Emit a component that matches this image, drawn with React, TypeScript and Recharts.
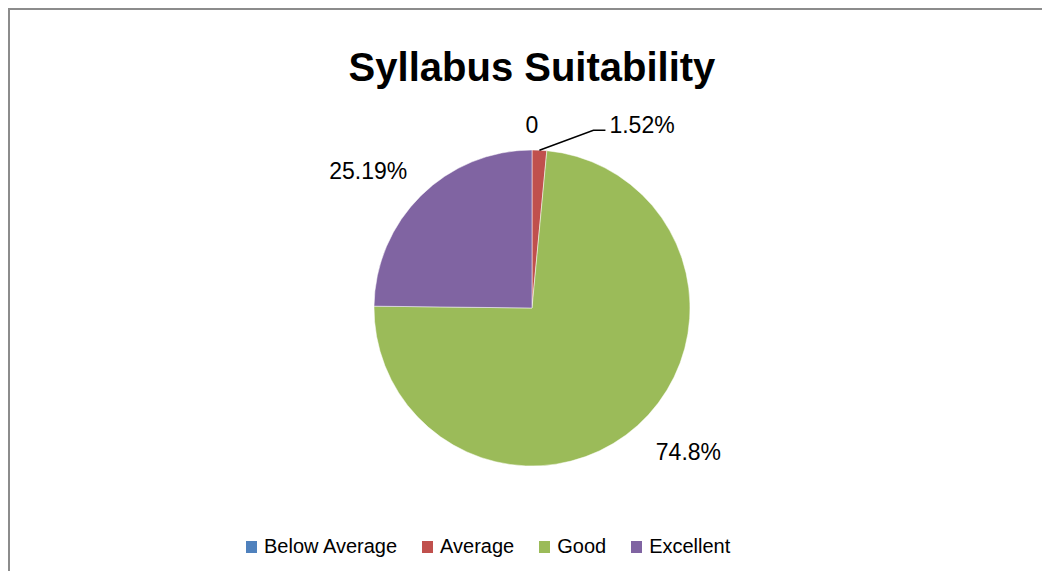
import React from "react";
import { PieChart, Pie, Cell, Legend } from "recharts";

const categories = ["Below Average", "Average", "Good", "Excellent"];
const shares = [0, 1.52, 74.8, 25.19];
const colors = ["#4F81BD", "#C0504D", "#9BBB59", "#8064A2"];
const chartTitle = "Syllabus Suitability";

const data = categories.map((name, i) => ({ name, value: shares[i] }));

const RADIAN = Math.PI / 180;
const FONT = "'Liberation Sans', Arial, sans-serif";

function labelText(v: number) {
  return v === 0 ? "0" : `${v}%`;
}

function renderLabel(props: any) {
  const { cx, cy, midAngle, outerRadius, index, value } = props;
  const cos = Math.cos(midAngle * RADIAN);
  const sin = Math.sin(midAngle * RADIAN);

  // tiny slices at the top: Excel puts them above the pie
  if (index === 0) {
    const x = cx + (outerRadius + 25) * cos;
    const y = cy - (outerRadius + 25) * sin;
    return (
      <text key={`l${index}`} x={x} y={y + 8} textAnchor="middle" fill="#000" fontSize={23} fontFamily={FONT}>
        {labelText(value)}
      </text>
    );
  }
  if (index === 1) {
    const sx = cx + outerRadius * cos;
    const sy = cy - outerRadius * sin;
    const ex = sx + 54;
    const ey = sy - 20;
    return (
      <g key={`l${index}`}>
        <polyline points={`${sx},${sy} ${ex},${ey} ${ex + 12},${ey}`} fill="none" stroke="#000" strokeWidth={1.5} />
        <text x={ex + 16} y={ey + 3} textAnchor="start" fill="#000" fontSize={23} fontFamily={FONT}>
          {labelText(value)}
        </text>
      </g>
    );
  }
  const r = outerRadius + 55;
  const x = cx + r * cos + Math.sign(cos) * 14;
  const y = cy - r * sin + Math.sign(sin) * 14;
  return (
    <text key={`l${index}`} x={x} y={y} textAnchor="middle" dominantBaseline="central" fill="#000" fontSize={23} fontFamily={FONT}>
      {labelText(value)}
    </text>
  );
}

function LegendContent() {
  return (
    <div style={{ display: "flex", alignItems: "center", fontFamily: FONT, fontSize: 20, color: "#000" }}>
      {categories.map((name, i) => (
        <div key={name} style={{ display: "flex", alignItems: "center", marginRight: 25 }}>
          <span style={{ width: 11, height: 12, background: colors[i], display: "inline-block", marginRight: 7 }} />
          <span>{name}</span>
        </div>
      ))}
    </div>
  );
}

export default function App() {
  return (
    <div
      style={{
        position: "relative",
        width: 1034,
        height: 563,
        borderTop: "2px solid #8c8c8c",
        borderLeft: "2px solid #8c8c8c",
        boxSizing: "border-box",
        overflow: "hidden",
        background: "#fff",
      }}
    >
      <div
        style={{
          position: "absolute",
          left: 0,
          top: 33,
          width: 1044,
          textAlign: "center",
          fontFamily: FONT,
          fontWeight: "bold",
          fontSize: 40,
          lineHeight: "48px",
          color: "#000",
        }}
      >
        {chartTitle}
      </div>
      <PieChart width={1040} height={570} style={{ position: "absolute", left: 0, top: 0 }}>
        <Pie
          data={data}
          dataKey="value"
          nameKey="name"
          cx={517}
          cy={293}
          outerRadius={158}
          startAngle={90}
          endAngle={-270}
          stroke="#ffffff"
          strokeWidth={0.5}
          label={renderLabel}
          labelLine={false}
          isAnimationActive={false}
        >
          {data.map((d, i) => (
            <Cell key={d.name} fill={colors[i]} />
          ))}
        </Pie>
        <Legend
          content={<LegendContent />}
          wrapperStyle={{ position: "absolute", left: 236, top: 525, width: "auto", bottom: "auto" }}
        />
      </PieChart>
    </div>
  );
}
